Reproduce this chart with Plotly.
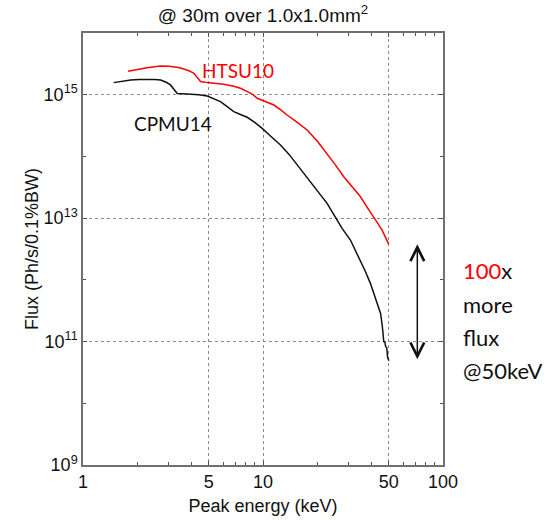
import plotly.graph_objects as go
import math

# ---- data ----
htsu_energy = [1.78, 2.0, 2.27, 2.5, 2.70, 3.0, 3.2, 3.4, 3.63, 3.9, 4.13, 4.3, 4.5, 4.9, 5.5,
               6.06, 6.8, 7.5, 8.3, 8.8, 9.29, 10.3, 11.5, 12.5, 13.6, 15.5, 17.6, 20.0, 22.7,
               25.0, 28.1, 31.0, 34.8, 38.0, 41.3, 43.5, 45.9, 48.0, 50.0]
htsu_flux = [2.39e15, 2.57e15, 2.74e15, 2.85e15, 2.92e15, 2.90e15, 2.84e15, 2.75e15, 2.61e15,
             2.43e15, 2.22e15, 1.95e15, 1.64e15, 1.57e15, 1.52e15, 1.48e15, 1.38e15, 1.27e15,
             1.10e15, 1.00e15, 8.75e14, 7.76e14, 6.81e14, 5.75e14, 4.69e14, 3.55e14, 2.68e14,
             1.78e14, 1.12e14, 7.59e13, 4.69e13, 3.31e13, 2.22e13, 1.48e13, 1.05e13, 8.13e12,
             6.41e12, 4.90e12, 3.76e12]

cpmu_energy = [1.48, 1.65, 1.84, 2.05, 2.27, 2.5, 2.70, 2.9, 3.06, 3.2, 3.34, 3.6, 3.96, 4.4,
               4.9, 5.3, 5.8, 6.3, 6.88, 7.5, 8.17, 9.0, 9.9, 11.0, 12.5, 14.0, 15.5, 17.2,
               19.1, 20.9, 22.7, 24.7, 27.5, 30.6, 34.8, 37.0, 39.5, 42.0, 45.0, 46.0, 46.9,
               47.6, 48.0, 48.7, 49.2, 50.0]
cpmu_flux = [1.57e15, 1.66e15, 1.73e15, 1.77e15, 1.78e15, 1.77e15, 1.73e15, 1.59e15, 1.44e15,
             1.23e15, 1.05e15, 1.04e15, 1.03e15, 1.00e15, 9.53e14, 8.71e14, 7.71e14, 6.46e14,
             5.31e14, 4.79e14, 4.31e14, 3.55e14, 2.85e14, 2.14e14, 1.53e14, 1.07e14, 7.26e13,
             4.90e13, 3.23e13, 2.34e13, 1.74e13, 1.15e13, 6.84e12, 4.42e12, 2.09e12, 1.38e12,
             8.77e11, 5.25e11, 2.86e11, 1.78e11, 9.93e10, 9.77e10, 8.32e10, 7.94e10, 5.62e10,
             4.89e10]

series_names = ["HTSU10", "CPMU14"]
x_tickvals = [1, 5, 10, 50, 100]
x_ticktext = ["1", "5", "10", "50", "100"]
x_minor = [2, 3, 4, 6, 7, 8, 9, 20, 30, 40, 60, 70, 80, 90]
y_tickvals = [1e9, 1e11, 1e13, 1e15]
y_ticktext = ["10<sup>9</sup>", "10<sup>11</sup>", "10<sup>13</sup>", "10<sup>15</sup>"]
y_minor = [1e10, 1e12, 1e14, 1e16]
arrow_energy = 72
label_pos = {"HTSU10": (7.26, 2.5e15), "CPMU14": (3.16, 3.4e14)}

RED = "#ff0000"
AXFONT = "Liberation Sans, Arial, sans-serif"
ANFONT = "Lato, Open Sans, sans-serif"

fig = go.Figure()
fig.add_trace(go.Scatter(x=htsu_energy, y=htsu_flux, mode="lines", name=series_names[0],
                         line=dict(color=RED, width=1.5)))
fig.add_trace(go.Scatter(x=cpmu_energy, y=cpmu_flux, mode="lines", name=series_names[1],
                         line=dict(color="#111111", width=1.5)))

common = dict(showline=True, linecolor="#707070", linewidth=1.5, mirror="ticks",
              ticks="inside", ticklen=4, tickcolor="#505050", zeroline=False,
              showgrid=True, gridcolor="#8a8a8a", gridwidth=1, griddash="3px,3px",
              automargin=False,
              tickfont=dict(family=AXFONT, size=18, color="#111111"))

fig.update_xaxes(type="log", range=[0, 2], tickvals=x_tickvals, ticktext=x_ticktext,
                 title=dict(text="Peak energy (keV)", font=dict(family=AXFONT, size=18, color="#111111"),
                            standoff=8),
                 minor=dict(tickvals=x_minor, ticks="inside", ticklen=3, tickcolor="#505050",
                            showgrid=False),
                 **common)
fig.update_yaxes(type="log", range=[9, 16], tickvals=y_tickvals, ticktext=y_ticktext,
                 title=dict(text="Flux (Ph/s/0.1%BW)", font=dict(family=AXFONT, size=18, color="#111111"),
                            standoff=0),
                 minor=dict(tickvals=y_minor, ticks="inside", ticklen=3, tickcolor="#505050",
                            showgrid=False),
                 **common)

annotations = []
for name, color in zip(series_names, [RED, "#111111"]):
    lx, ly = label_pos[name]
    annotations.append(dict(x=math.log10(lx), y=math.log10(ly), xref="x", yref="y",
                            text=name, showarrow=False,
                            font=dict(family=ANFONT, size=19, color=color)))

# double-headed arrow between the two curve end points at 50 keV
annotations.append(dict(x=math.log10(arrow_energy), y=math.log10(htsu_flux[-1]),
                        ax=math.log10(arrow_energy), ay=math.log10(cpmu_flux[-1]),
                        xref="x", yref="y", axref="x", ayref="y", text="",
                        showarrow=True, arrowhead=5, startarrowhead=5, arrowside="end+start",
                        arrowsize=1.8, startarrowsize=1.8, arrowwidth=1.5, arrowcolor="#111111"))

side_lines = ["<span style='color:#ff0000'>100</span>x", "more", "flux", "@50keV"]
side_y = [0.450, 0.371, 0.294, 0.218]
for t, yy in zip(side_lines, side_y):
    annotations.append(dict(x=1.051, y=yy, xref="paper", yref="paper", xanchor="left",
                            yanchor="middle", text=t, showarrow=False,
                            font=dict(family=ANFONT, size=22, color="#111111")))

fig.update_layout(
    width=548, height=520,
    margin=dict(l=83, r=105, t=33, b=55),
    paper_bgcolor="white", plot_bgcolor="white",
    showlegend=False,
    title=dict(text="@ 30m over 1.0x1.0mm<sup>2</sup>", x=0.5, xref="paper", xanchor="center",
               y=1 - 15 / 520, yanchor="middle", yref="container",
               font=dict(family=AXFONT, size=19, color="#111111")),
    annotations=annotations,
)

fig.write_html("out.html")
